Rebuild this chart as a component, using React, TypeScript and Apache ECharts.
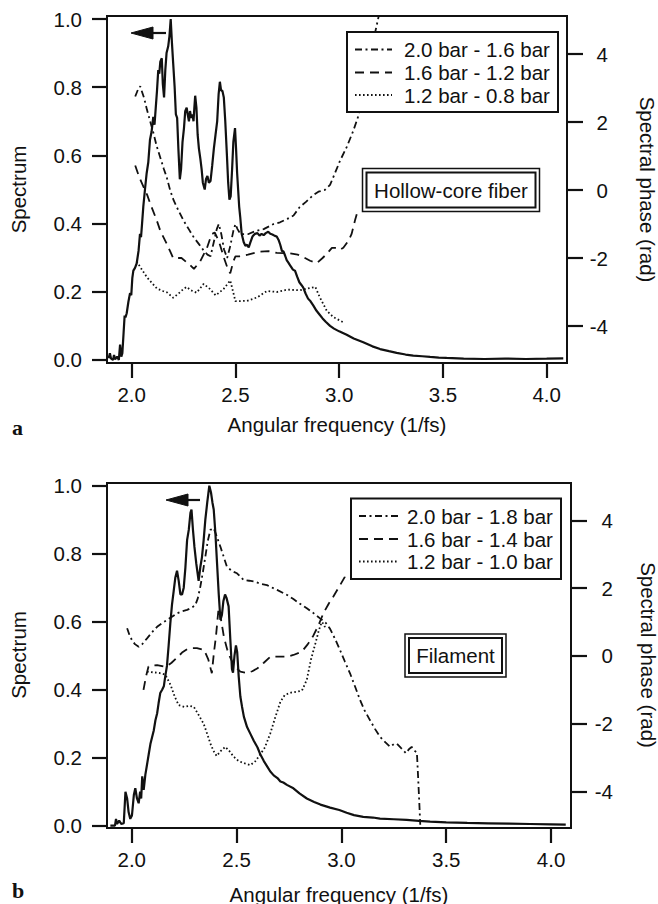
import React, { useEffect, useRef } from "react";
import * as echarts from "echarts";

// ---------- tick labels ----------
const xTicks = [2.0, 2.5, 3.0, 3.5, 4.0];
const spectrumTicks = [0, 0.2, 0.4, 0.6, 0.8, 1.0];
const phaseTicks = [-4, -2, 0, 2, 4];

// ---------- legends / labels ----------
const topLegend = ["2.0 bar - 1.6 bar", "1.6 bar - 1.2 bar", "1.2 bar - 0.8 bar"];
const bottomLegend = ["2.0 bar - 1.8 bar", "1.6 bar - 1.4 bar", "1.2 bar - 1.0 bar"];
const topTag = "Hollow-core fiber";
const bottomTag = "Filament";
const xTitle = "Angular frequency (1/fs)";
const yLeftTitle = "Spectrum";
const yRightTitle = "Spectral phase (rad)";

// ---------- panel a: hollow-core fiber ----------
const topSpectrum = [
  [1.889, 0.005], [1.895, 0.02], [1.9, 0.005], [1.91, 0.0], [1.915, 0.015], [1.92, 0.002], [1.93, 0.01], [1.938, 0.0],
  [1.944, 0.045], [1.95, 0.01], [1.955, 0.02], [1.961, 0.08], [1.966, 0.13], [1.97, 0.125], [1.976, 0.137], [1.984, 0.17],
  [1.992, 0.196], [1.998, 0.19], [2.003, 0.24], [2.008, 0.262], [2.016, 0.27], [2.024, 0.283], [2.033, 0.32], [2.04, 0.37],
  [2.045, 0.36], [2.05, 0.4], [2.056, 0.45], [2.064, 0.5], [2.072, 0.547], [2.08, 0.58], [2.088, 0.645], [2.096, 0.67],
  [2.104, 0.713], [2.11, 0.69], [2.116, 0.74], [2.122, 0.79], [2.128, 0.85], [2.133, 0.84], [2.138, 0.875], [2.145, 0.885],
  [2.15, 0.81], [2.156, 0.77], [2.162, 0.85], [2.168, 0.9], [2.176, 0.92], [2.182, 0.95], [2.188, 1.0], [2.194, 0.93],
  [2.2, 0.87], [2.207, 0.8], [2.213, 0.72], [2.219, 0.71], [2.225, 0.62], [2.232, 0.53], [2.238, 0.56], [2.245, 0.64],
  [2.252, 0.68], [2.258, 0.73], [2.265, 0.74], [2.27, 0.72], [2.276, 0.7], [2.281, 0.73], [2.287, 0.71], [2.293, 0.72],
  [2.298, 0.7], [2.302, 0.74], [2.306, 0.775], [2.312, 0.74], [2.318, 0.66], [2.324, 0.62], [2.331, 0.59], [2.337, 0.56],
  [2.343, 0.52], [2.352, 0.5], [2.358, 0.53], [2.365, 0.54], [2.372, 0.52], [2.38, 0.525], [2.388, 0.57], [2.396, 0.62],
  [2.404, 0.66], [2.412, 0.7], [2.419, 0.78], [2.425, 0.816], [2.431, 0.79], [2.437, 0.79], [2.444, 0.77], [2.451, 0.7],
  [2.459, 0.6], [2.465, 0.52], [2.471, 0.47], [2.477, 0.48], [2.484, 0.56], [2.49, 0.64], [2.498, 0.68], [2.503, 0.62],
  [2.508, 0.55], [2.513, 0.5], [2.518, 0.45], [2.523, 0.42], [2.53, 0.37], [2.54, 0.345], [2.548, 0.335], [2.556, 0.338],
  [2.564, 0.33], [2.572, 0.345], [2.582, 0.362], [2.594, 0.37], [2.606, 0.372], [2.616, 0.365], [2.626, 0.37], [2.636, 0.366],
  [2.646, 0.372], [2.658, 0.376], [2.668, 0.37], [2.678, 0.368], [2.69, 0.364], [2.699, 0.362], [2.708, 0.352], [2.716, 0.338],
  [2.724, 0.32], [2.732, 0.318], [2.74, 0.305], [2.747, 0.293], [2.756, 0.285], [2.766, 0.275], [2.777, 0.265], [2.787, 0.262],
  [2.797, 0.245], [2.808, 0.228], [2.818, 0.22], [2.827, 0.212], [2.838, 0.195], [2.85, 0.18], [2.862, 0.172], [2.875, 0.16],
  [2.89, 0.145], [2.907, 0.132], [2.92, 0.122], [2.935, 0.112], [2.956, 0.1], [2.975, 0.092], [3.0, 0.084], [3.036, 0.074],
  [3.07, 0.063], [3.116, 0.052], [3.16, 0.04], [3.197, 0.032], [3.24, 0.026], [3.277, 0.021], [3.32, 0.016], [3.357, 0.013],
  [3.4, 0.011], [3.438, 0.009], [3.48, 0.007], [3.518, 0.006], [3.6, 0.004], [3.7, 0.003], [3.8, 0.004], [3.9, 0.003],
  [4.0, 0.004], [4.08, 0.005],
];

const topPhaseHigh = [
  [2.017, 2.75], [2.03, 2.95], [2.041, 3.05], [2.06, 2.7], [2.074, 2.35], [2.09, 2.0], [2.106, 1.65], [2.12, 1.3],
  [2.138, 0.95], [2.155, 0.62], [2.17, 0.35], [2.185, 0.0], [2.202, -0.3], [2.225, -0.6], [2.25, -0.9], [2.275, -1.15],
  [2.3, -1.4], [2.325, -1.6], [2.347, -1.78], [2.365, -1.9], [2.38, -1.95], [2.395, -1.55], [2.41, -1.15], [2.42, -1.0],
  [2.432, -1.3], [2.445, -1.75], [2.46, -2.0], [2.475, -1.65], [2.49, -1.2], [2.5, -1.0], [2.51, -1.15], [2.525, -1.3],
  [2.56, -1.3], [2.6, -1.2], [2.636, -1.15], [2.684, -1.0], [2.715, -0.95], [2.75, -0.85], [2.78, -0.75], [2.81, -0.5],
  [2.84, -0.35], [2.875, -0.15], [2.9, -0.05], [2.93, 0.0], [2.956, 0.15], [2.98, 0.5], [3.004, 0.86], [3.036, 1.26],
  [3.068, 1.74], [3.092, 2.17], [3.12, 2.9], [3.15, 3.9], [3.172, 4.6], [3.19, 5.1],
];

const topPhaseMid = [
  [2.017, 0.72], [2.035, 0.4], [2.058, 0.08], [2.075, -0.15], [2.09, -0.41], [2.12, -0.88], [2.138, -1.2], [2.168, -1.57],
  [2.185, -1.8], [2.2, -2.0], [2.22, -2.0], [2.24, -2.0], [2.266, -2.13], [2.28, -2.2], [2.3, -2.32], [2.33, -2.1],
  [2.363, -1.7], [2.385, -1.3], [2.4, -1.25], [2.42, -1.5], [2.445, -2.0], [2.465, -2.35], [2.475, -2.45], [2.49, -2.1],
  [2.5, -1.95], [2.52, -1.95], [2.56, -1.9], [2.62, -1.81], [2.66, -1.8], [2.7, -1.85], [2.76, -1.86], [2.8, -1.9],
  [2.83, -1.98], [2.86, -2.08], [2.892, -2.15], [2.92, -2.0], [2.94, -1.88], [2.965, -1.7], [2.985, -1.7], [3.004, -1.76],
  [3.02, -1.7], [3.044, -1.5], [3.06, -1.29], [3.076, -0.9], [3.09, -0.6],
];

const topPhaseLow = [
  [2.024, -2.1], [2.05, -2.35], [2.074, -2.57], [2.1, -2.75], [2.122, -2.9], [2.15, -2.97], [2.17, -3.01], [2.2, -3.17],
  [2.225, -3.05], [2.25, -2.91], [2.265, -2.85], [2.285, -2.95], [2.313, -3.02], [2.347, -2.76], [2.375, -2.9], [2.405, -3.1],
  [2.443, -2.91], [2.475, -2.66], [2.5, -3.27], [2.556, -3.26], [2.604, -3.16], [2.652, -2.97], [2.7, -3.0], [2.75, -2.93],
  [2.81, -2.95], [2.86, -2.88], [2.885, -2.85], [2.907, -3.16], [2.94, -3.55], [2.972, -3.74], [3.02, -3.89],
];

// ---------- panel b: filament ----------
const bottomSpectrum = [
  [1.898, 0.0], [1.92, 0.0], [1.925, 0.02], [1.93, 0.005], [1.94, 0.015], [1.95, 0.005], [1.962, 0.007], [1.97, 0.1],
  [1.978, 0.08], [1.985, 0.04], [1.993, 0.02], [2.001, 0.03], [2.01, 0.09], [2.017, 0.11], [2.025, 0.08], [2.033, 0.066],
  [2.04, 0.1], [2.045, 0.08], [2.05, 0.145], [2.057, 0.105], [2.065, 0.15], [2.073, 0.18], [2.081, 0.21], [2.089, 0.24],
  [2.097, 0.26], [2.105, 0.28], [2.113, 0.31], [2.121, 0.33], [2.128, 0.36], [2.136, 0.39], [2.145, 0.4], [2.153, 0.41],
  [2.16, 0.44], [2.168, 0.47], [2.176, 0.53], [2.184, 0.595], [2.192, 0.65], [2.2, 0.69], [2.208, 0.73], [2.216, 0.75],
  [2.224, 0.72], [2.232, 0.68], [2.24, 0.68], [2.248, 0.7], [2.256, 0.76], [2.264, 0.84], [2.272, 0.87], [2.28, 0.92],
  [2.285, 0.93], [2.292, 0.87], [2.299, 0.82], [2.308, 0.77], [2.319, 0.72], [2.327, 0.76], [2.335, 0.79], [2.343, 0.84],
  [2.351, 0.9], [2.36, 0.95], [2.37, 1.0], [2.378, 0.98], [2.385, 0.95], [2.391, 0.93], [2.399, 0.86], [2.407, 0.77],
  [2.415, 0.68], [2.423, 0.605], [2.43, 0.62], [2.437, 0.66], [2.445, 0.68], [2.452, 0.67], [2.462, 0.645], [2.47, 0.55],
  [2.478, 0.46], [2.483, 0.45], [2.49, 0.5], [2.497, 0.53], [2.503, 0.51], [2.51, 0.44], [2.518, 0.38], [2.526, 0.35],
  [2.535, 0.32], [2.55, 0.29], [2.566, 0.27], [2.582, 0.25], [2.6, 0.23], [2.613, 0.21], [2.63, 0.19], [2.645, 0.175],
  [2.66, 0.16], [2.677, 0.148], [2.695, 0.14], [2.709, 0.13], [2.723, 0.127], [2.74, 0.12], [2.771, 0.11], [2.8, 0.095],
  [2.835, 0.08], [2.87, 0.07], [2.9, 0.062], [2.946, 0.053], [2.99, 0.046], [3.025, 0.038], [3.06, 0.031], [3.104, 0.026],
  [3.15, 0.024], [3.184, 0.021], [3.25, 0.019], [3.311, 0.017], [3.37, 0.014], [3.423, 0.012], [3.5, 0.01], [3.6, 0.008],
  [3.7, 0.007], [3.8, 0.006], [3.9, 0.005], [4.0, 0.004], [4.07, 0.003],
];

const bottomPhaseHigh = [
  [1.978, 0.82], [1.99, 0.6], [2.001, 0.47], [2.015, 0.35], [2.033, 0.27], [2.05, 0.35], [2.073, 0.52], [2.097, 0.7],
  [2.121, 0.86], [2.145, 0.97], [2.168, 1.06], [2.192, 1.16], [2.216, 1.26], [2.24, 1.32], [2.264, 1.36], [2.285, 1.42],
  [2.303, 1.5], [2.315, 1.7], [2.327, 2.04], [2.34, 2.5], [2.351, 2.93], [2.363, 3.4], [2.375, 3.72], [2.391, 3.77],
  [2.407, 3.5], [2.423, 3.22], [2.44, 2.9], [2.454, 2.63], [2.48, 2.5], [2.502, 2.44], [2.534, 2.24], [2.56, 2.22],
  [2.582, 2.2], [2.62, 2.12], [2.645, 2.09], [2.693, 1.95], [2.741, 1.8], [2.771, 1.68], [2.8, 1.55], [2.835, 1.41],
  [2.87, 1.25], [2.898, 1.11], [2.925, 0.98], [2.946, 0.8], [2.97, 0.5], [2.993, 0.18], [3.017, -0.17], [3.041, -0.51],
  [3.065, -0.9], [3.089, -1.3], [3.11, -1.6], [3.136, -1.89], [3.16, -2.15], [3.184, -2.38], [3.21, -2.55], [3.232, -2.68],
  [3.25, -2.6], [3.264, -2.58], [3.285, -2.72], [3.308, -2.87], [3.322, -2.75], [3.335, -2.68], [3.35, -2.8], [3.36, -2.85],
  [3.366, -3.6], [3.372, -4.4], [3.376, -4.98],
];

const bottomPhaseMid = [
  [2.056, -1.0], [2.068, -0.6], [2.08, -0.31], [2.1, -0.28], [2.121, -0.27], [2.151, -0.31], [2.168, -0.3], [2.19, -0.2],
  [2.216, -0.05], [2.24, 0.1], [2.264, 0.2], [2.29, 0.23], [2.311, 0.23], [2.345, 0.18], [2.365, -0.1], [2.382, -0.51],
  [2.392, 0.1], [2.402, 0.6], [2.414, 1.4], [2.425, 1.1], [2.44, 0.55], [2.455, 0.2], [2.47, -0.05], [2.49, -0.3],
  [2.518, -0.46], [2.55, -0.5], [2.575, -0.45], [2.6, -0.36], [2.63, -0.2], [2.661, -0.02], [2.7, -0.02], [2.741, -0.02],
  [2.771, 0.03], [2.8, 0.1], [2.818, 0.18], [2.84, 0.35], [2.866, 0.6], [2.89, 0.9], [2.914, 1.26], [2.94, 1.55],
  [2.961, 1.75], [2.99, 2.05], [3.017, 2.34], [3.03, 2.5],
];

const bottomPhaseLow = [
  [2.073, -0.46], [2.1, -0.48], [2.13, -0.5], [2.16, -0.55], [2.185, -0.85], [2.205, -1.2], [2.224, -1.45], [2.25, -1.5],
  [2.275, -1.47], [2.296, -1.5], [2.32, -1.75], [2.343, -2.0], [2.36, -2.3], [2.375, -2.58], [2.39, -2.8], [2.405, -2.95],
  [2.425, -2.8], [2.446, -2.68], [2.465, -2.8], [2.486, -2.97], [2.51, -3.1], [2.54, -3.17], [2.566, -3.22], [2.59, -3.1],
  [2.613, -2.9], [2.635, -2.7], [2.661, -2.28], [2.685, -1.8], [2.709, -1.35], [2.73, -1.15], [2.76, -1.08], [2.79, -1.05],
  [2.812, -1.02], [2.835, -0.7], [2.855, -0.1], [2.875, 0.35], [2.892, 0.75], [2.906, 1.0], [2.915, 0.95], [2.925, 0.8],
];

const INK = "#111";
const FONT = "'Liberation Sans', Arial, Helvetica, sans-serif";
const FS = 20.5;

const DASHDOT = [7, 3.5, 2, 3.5];
const DASHED = [9, 6];
const DOTTED = [1.6, 2.4];

function fmt1(v: any): string {
  const raw = v != null && typeof v === "object" ? v.value : v;
  const n = Number(raw);
  return isFinite(n) ? n.toFixed(1) : String(raw ?? "");
}

function tickCfg(values: number[], length: number) {
  return { show: true, length, customValues: values, lineStyle: { color: INK, width: 2.2 } };
}

function makePanel(idx: number, r: any) {
  const xAxis = {
    type: "value", gridIndex: idx, min: r.xMin, max: r.xMax,
    splitLine: { show: false },
    axisLine: { show: true, onZero: false, lineStyle: { color: INK, width: 2 } },
    axisTick: tickCfg(xTicks, 15),
    axisLabel: { customValues: xTicks, formatter: fmt1, fontSize: FS, fontFamily: FONT, color: INK, margin: 21 },
  };
  const yLeft = {
    type: "value", gridIndex: idx, position: "left", min: r.sMin, max: r.sMax,
    splitLine: { show: false },
    axisLine: { show: true, onZero: false, lineStyle: { color: INK, width: 2 } },
    axisTick: tickCfg(spectrumTicks, 15),
    axisLabel: { customValues: spectrumTicks, formatter: fmt1, fontSize: FS, fontFamily: FONT, color: INK, margin: 25 },
  };
  const yRight = {
    type: "value", gridIndex: idx, position: "right", min: r.pMin, max: r.pMax,
    splitLine: { show: false },
    axisLine: { show: true, onZero: false, lineStyle: { color: INK, width: 2 } },
    axisTick: tickCfg(phaseTicks, 16),
    axisLabel: { customValues: phaseTicks, align: "right", fontSize: FS, fontFamily: FONT, color: INK, margin: r.pLabelMargin },
  };
  return { xAxis, yLeft, yRight };
}

function lineSeries(data: number[][], xi: number, yi: number, type: any, width: number) {
  return {
    type: "line", data, xAxisIndex: xi, yAxisIndex: yi,
    showSymbol: false, symbol: "none",
    lineStyle: { color: INK, width, type },
    z: 3,
  };
}

function txt(x: number, y: number, text: string, align: string, rotation?: number, font = `${FS}px ${FONT}`) {
  const el: any = {
    type: "text", z: 101, silent: true, x, y,
    style: { text, font, fill: INK, textAlign: align, textVerticalAlign: "middle", align, verticalAlign: "middle" },
  };
  if (rotation) el.rotation = rotation;
  return el;
}

function legendBlock(box: any, labels: string[]) {
  const els: any[] = [{
    type: "rect", z: 100, silent: true,
    shape: { x: box.x, y: box.y, width: box.w, height: box.h },
    style: { fill: "#fff", stroke: INK, lineWidth: 2 },
  }];
  const dashes = [DASHDOT, DASHED, DOTTED];
  labels.forEach((t, i) => {
    const y = box.rows[i];
    els.push({
      type: "line", z: 101, silent: true,
      shape: { x1: box.lx1, y1: y, x2: box.lx2, y2: y },
      style: { stroke: INK, lineWidth: 1.8, lineDash: dashes[i] },
    });
    els.push(txt(box.tx, y, t, "left"));
  });
  return els;
}

function tagBlock(o: any, text: string) {
  return [
    { type: "rect", z: 100, silent: true, shape: { x: o.x, y: o.y, width: o.w, height: o.h }, style: { fill: "#fff", stroke: INK, lineWidth: 1.5 } },
    { type: "rect", z: 100, silent: true, shape: { x: o.x + 4, y: o.y + 4, width: o.w - 8, height: o.h - 8 }, style: { fill: "#fff", stroke: INK, lineWidth: 2 } },
    txt(o.x + o.w / 2, o.y + o.h / 2, text, "center"),
  ];
}

function arrow(tipX: number, tailX: number, y: number) {
  return [
    { type: "line", z: 100, silent: true, shape: { x1: tipX + 18, y1: y, x2: tailX, y2: y }, style: { stroke: INK, lineWidth: 2.2 } },
    { type: "polygon", z: 100, silent: true, shape: { points: [[tipX, y], [tipX + 22, y - 6], [tipX + 22, y + 6]] }, style: { fill: INK, stroke: INK, lineWidth: 1 } },
  ];
}

export default function App() {
  const ref = useRef<HTMLDivElement>(null);
  useEffect(() => {
    document.body.style.margin = "0";
    if (!ref.current) return;
    const chart = echarts.init(ref.current, null, { renderer: "svg" });

    const top = makePanel(0, { xMin: 1.881, xMax: 4.098, sMin: -0.0088, sMax: 1.0088, pMin: -5.088, pMax: 5.118, pLabelMargin: 41 });
    const bot = makePanel(1, { xMin: 1.882, xMax: 4.095, sMin: -0.0068, sMax: 1.0079, pMin: -5.074, pMax: 5.103, pLabelMargin: 42 });

    const labelFont = "bold 22px 'Liberation Serif', 'Times New Roman', serif";
    const graphic: any[] = [
      ...legendBlock({ x: 347, y: 32, w: 211, h: 80, rows: [49.5, 72.5, 95], lx1: 355, lx2: 392, tx: 404 }, topLegend),
      ...legendBlock({ x: 351, y: 498.5, w: 210, h: 80.5, rows: [516, 539, 561.5], lx1: 359, lx2: 398, tx: 407 }, bottomLegend),
      ...tagBlock({ x: 362.5, y: 168.5, w: 177, h: 43 }, topTag),
      ...tagBlock({ x: 405, y: 634, w: 101, h: 43 }, bottomTag),
      ...arrow(131, 166, 33),
      ...arrow(166, 200, 500),
      txt(337, 424, xTitle, "center"),
      txt(339, 894, xTitle, "center"),
      txt(18, 189.5, yLeftTitle, "center", Math.PI / 2),
      txt(18, 655, yLeftTitle, "center", Math.PI / 2),
      txt(647, 189.5, yRightTitle, "center", -Math.PI / 2),
      txt(648, 655, yRightTitle, "center", -Math.PI / 2),
      txt(12, 427, "a", "left", 0, labelFont),
      txt(12, 890, "b", "left", 0, labelFont),
    ];

    chart.setOption({
      animation: false,
      backgroundColor: "#fff",
      grid: [
        { left: 107, top: 16, width: 460, height: 347, show: true, borderColor: INK, borderWidth: 2, outerBoundsMode: "none" },
        { left: 107, top: 483, width: 464, height: 345, show: true, borderColor: INK, borderWidth: 2, outerBoundsMode: "none" },
      ],
      xAxis: [top.xAxis, bot.xAxis],
      yAxis: [top.yLeft, top.yRight, bot.yLeft, bot.yRight],
      series: [
        lineSeries(topSpectrum, 0, 0, "solid", 2.2),
        lineSeries(topPhaseHigh, 0, 1, DASHDOT, 1.8),
        lineSeries(topPhaseMid, 0, 1, DASHED, 1.8),
        lineSeries(topPhaseLow, 0, 1, DOTTED, 1.8),
        lineSeries(bottomSpectrum, 1, 2, "solid", 2.2),
        lineSeries(bottomPhaseHigh, 1, 3, DASHDOT, 1.8),
        lineSeries(bottomPhaseMid, 1, 3, DASHED, 1.8),
        lineSeries(bottomPhaseLow, 1, 3, DOTTED, 1.8),
      ],
      graphic,
    });
    return () => chart.dispose();
  }, []);
  return <div ref={ref} style={{ position: "absolute", left: 0, top: 0, width: 658, height: 904 }} />;
}
